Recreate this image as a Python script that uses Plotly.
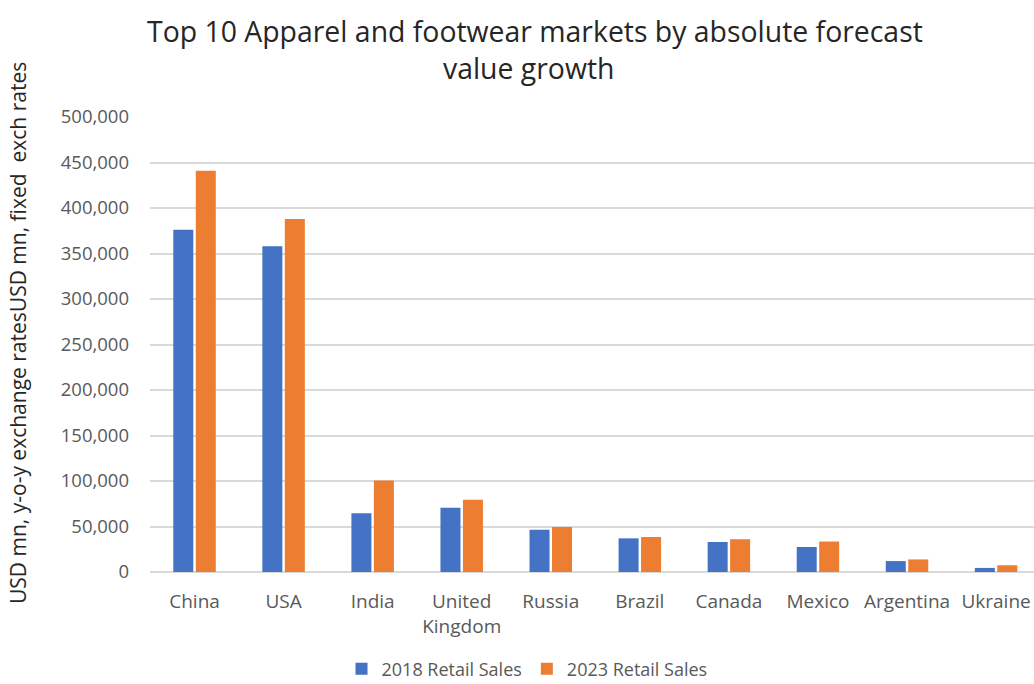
import plotly.graph_objects as go

countries = ["China", "USA", "India", "United<br>Kingdom", "Russia", "Brazil",
             "Canada", "Mexico", "Argentina", "Ukraine"]
sales_2018 = [376000, 358000, 64500, 70500, 46500, 37000, 33000, 27500, 12000, 4500]
sales_2023 = [441000, 388000, 100500, 79500, 49500, 38500, 36000, 33500, 13800, 7400]
y_ticks = [0, 50000, 100000, 150000, 200000, 250000, 300000, 350000, 400000, 450000, 500000]

title_lines = ["Top 10 Apparel and footwear markets by absolute forecast", "value growth"]
y_title = "USD mn, y-o-y exchange ratesUSD mn, fixed  exch rates"

W, H = 1034, 684
L, R, T, B = 150, 0, 117, 112
plot_h = H - T - B
plot_w = W - L - R
cat_px = 89.06  # width of one category slot


def px_x(x):
    return (x - L) / plot_w


def px_y(y):
    return (H - B - y) / plot_h


fig = go.Figure()
fig.add_trace(go.Bar(x=countries, y=sales_2018, name="2018 Retail Sales",
                     marker=dict(color="#4472C4", line=dict(width=0))))
fig.add_trace(go.Bar(x=countries, y=sales_2023, name="2023 Retail Sales",
                     marker=dict(color="#ED7D31", line=dict(width=0))))

annotations = [
    dict(text=title_lines[0], xref="paper", yref="paper", x=px_x(535), y=px_y(31),
         xanchor="center", yanchor="middle", showarrow=False,
         font=dict(size=28.4, color="#262626")),
    dict(text=title_lines[1], xref="paper", yref="paper", x=px_x(528), y=px_y(68),
         xanchor="center", yanchor="middle", showarrow=False,
         font=dict(size=28.4, color="#262626")),
    dict(text=y_title, xref="paper", yref="paper", x=px_x(18), y=px_y(333),
         xanchor="center", yanchor="middle", showarrow=False, textangle=-90,
         font=dict(size=21, color="#262626")),
]

fig.update_layout(
    width=W, height=H,
    margin=dict(l=L, r=R, t=T, b=B, autoexpand=False),
    paper_bgcolor="white", plot_bgcolor="white",
    font=dict(family="Open Sans, Noto Sans, sans-serif", color="#595959", size=14),
    annotations=annotations,
    barmode="group", bargap=0.495, bargroupgap=0.11,
    legend=dict(orientation="h", x=px_x(527), xanchor="center", y=px_y(669), yanchor="middle",
                font=dict(size=18, color="#595959"), itemwidth=30),
    xaxis=dict(showgrid=False, showline=False, ticks="", tickfont=dict(size=19, color="#595959"),
               range=[-0.5, -0.5 + plot_w / cat_px], ticklabelstandoff=16),
    yaxis=dict(
        range=[0, 500000], tickvals=y_ticks,
        ticktext=[f"{v:,}" for v in y_ticks],
        showgrid=True, gridcolor="#d9d9d9", gridwidth=1.5,
        zeroline=True, zerolinecolor="#d9d9d9", zerolinewidth=1.5,
        tickfont=dict(size=18.5, color="#595959"), ticklabelstandoff=20,
    ),
)

fig.write_html("out.html")
